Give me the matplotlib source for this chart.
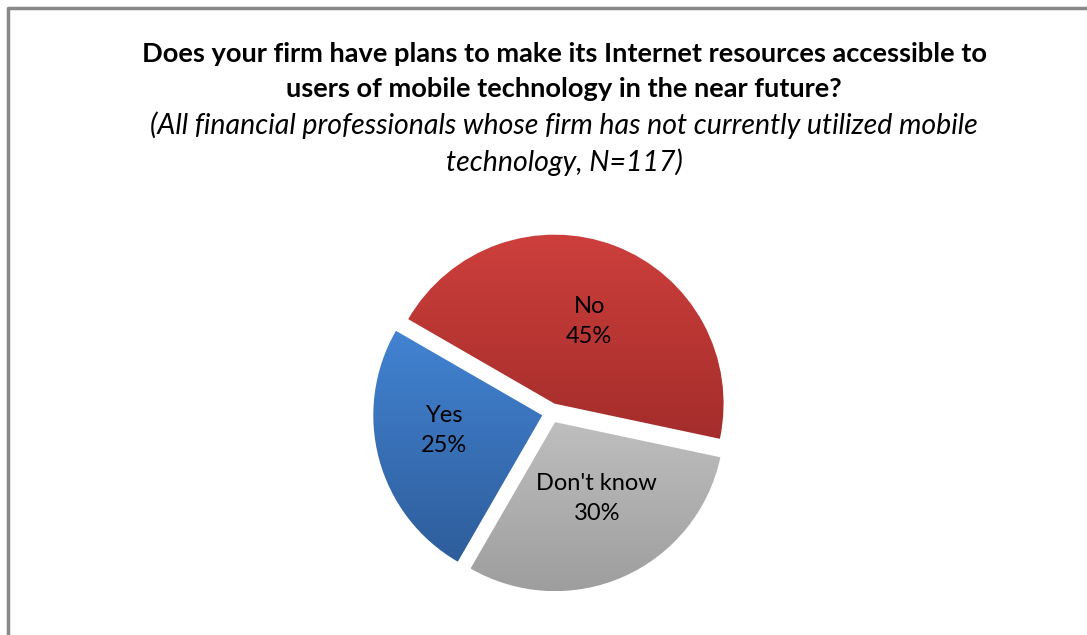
import numpy as np
import matplotlib.pyplot as plt
from matplotlib.colors import LinearSegmentedColormap

labels = ["Yes", "No", "Don't know"]
values = [25, 45, 30]
top_colors = ["#4283D2", "#CD3F3C", "#BEBEBE"]
bottom_colors = ["#2E5D9B", "#A42D2B", "#9E9E9E"]

title = "Does your firm have plans to make its Internet resources accessible to\nusers of mobile technology in the near future?"
subtitle = "(All financial professionals whose firm has not currently utilized mobile\ntechnology, N=117)"

W, H = 1087, 635
fig = plt.figure(figsize=(W / 100, H / 100), dpi=100)
ax = fig.add_axes([0, 0, 1, 1])
ax.set_xlim(0, W)
ax.set_ylim(0, H)
ax.set_aspect("equal")
ax.axis("off")

# chart border (only top/left visible in the crop)
ax.plot([7.5, 7.5, W + 5], [-5, H - 7.5, H - 7.5], color="#888888", lw=2.5, solid_capstyle="butt")

t1, t2 = title.split("\n")
s1, s2 = subtitle.split("\n")
fig.text(564 / W, (H - 54) / H, t1, ha="center", va="center",
         fontsize=19.6, fontweight="bold", family="Lato")
fig.text(564 / W, (H - 89) / H, t2, ha="center", va="center",
         fontsize=19.6, fontweight="bold", family="Lato")
fig.text(564 / W, (H - 125) / H, s1, ha="center", va="center",
         fontsize=20.5, style="italic", family="Lato")
fig.text(564 / W, (H - 162) / H, s2, ha="center", va="center",
         fontsize=20.5, style="italic", family="Lato")

wedges, texts = ax.pie(values, labels=None, startangle=240, counterclock=False,
                       center=(551, H - 413), radius=169, explode=[9, 10, 10],
                       wedgeprops=dict(linewidth=0))[:2]

label_dist = [0.6, 0.52, 0.52]
label_dx = [0, 3, 6]
label_dy = [11, 0, 4]
for w, c1, c2, lab, v, d, dx, dy in zip(wedges, top_colors, bottom_colors, labels, values,
                                        label_dist, label_dx, label_dy):
    ext = w.get_path().get_extents()
    cmap = LinearSegmentedColormap.from_list("g", [c2, c1])
    grad = np.linspace(0, 1, 256).reshape(-1, 1)
    w.set_facecolor("none")
    im = ax.imshow(grad, cmap=cmap, origin="lower", aspect="auto",
                   extent=[ext.x0, ext.x1, ext.y0, ext.y1], zorder=1)
    im.set_clip_path(w)
    th = np.deg2rad((w.theta1 + w.theta2) / 2)
    cx, cy = w.center
    ax.text(cx + dx + d * w.r * np.cos(th), cy + dy + d * w.r * np.sin(th), f"{lab}\n{v}%",
            ha="center", va="center", fontsize=17, family="Lato", linespacing=1.5, zorder=3)

ax.set_xlim(0, W)
ax.set_ylim(0, H)
fig.savefig("out.png", dpi=100)
